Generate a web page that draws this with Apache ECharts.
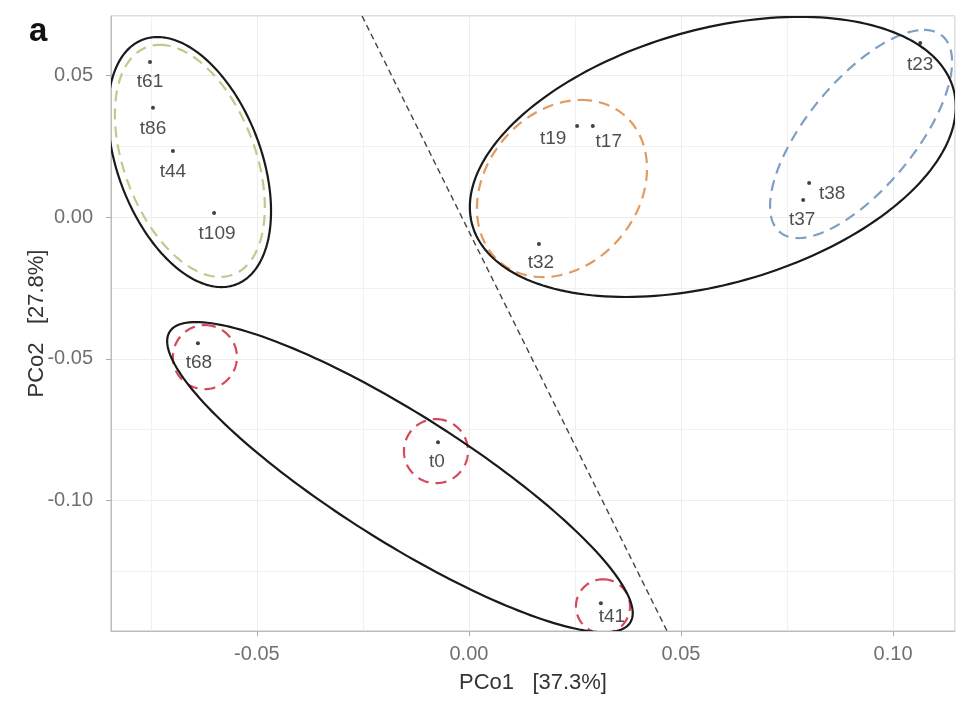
<!DOCTYPE html>
<html>
<head>
<meta charset="utf-8">
<script src="https://cdn.jsdelivr.net/npm/echarts@6/dist/echarts.min.js"></script>
<style>
  html, body { margin: 0; padding: 0; background: #fff; }
  #main { width: 956px; height: 701px; }
</style>
</head>
<body>
<div id="main"></div>
<script>
// sample scores
var sampleNames = ['t61', 't86', 't44', 't109', 't19', 't17', 't32', 't38', 't37', 't23', 't68', 't0', 't41'];
var pco1 = [-0.0752, -0.0745, -0.0698, -0.0601, 0.0255, 0.0292, 0.0165, 0.0802, 0.0788, 0.1064, -0.0639, -0.0073, 0.0311];
var pco2 = [0.0547, 0.0385, 0.0233, 0.0014, 0.0321, 0.0321, -0.0095, 0.0120, 0.0060, 0.0614, -0.0445, -0.0794, -0.1362];

// where each text sits relative to its point (px)
var labelDx = [0, 0, 0, 3, -24, 16, 2, 23, -1, 0, 1, -1, 11];
var labelDy = [20, 21, 21, 21, 13, 16, 19, 11, 20, 22, 20, 20, 14];

// ellipses: centre, vector to the top point, half width through the centre
var ellipseCx   = [-0.0658, 0.02193, 0.09245, -0.06226, -0.00778, 0.0316, -0.0659, 0.0575, -0.01627];
var ellipseCy   = [0.0198, 0.01006, 0.02929, -0.0494, -0.08257, -0.1373, 0.0194, 0.0212, -0.09174];
var ellipseTopDx = [-0.00708, 0.00453, 0.01484, 0, 0, 0, -0.00755, 0.0205, -0.04811];
var ellipseTopDy = [0.04093, 0.03123, 0.0367, 0.01129, 0.01129, 0.00953, 0.0441, 0.0494, 0.0547];
var ellipseHalfW = [0.0162, 0.01953, 0.0155, 0.00755, 0.00755, 0.00637, 0.01769, 0.0535, 0.02642];
var ellipseColor = ['#bfca8c', '#e39a5e', '#7d9fc4', '#d5475a', '#d5475a', '#d5475a', '#1a1a1a', '#1a1a1a', '#1a1a1a'];
var ellipseDashed = [true, true, true, true, true, true, false, false, false];

// dashed separating line
var dividerX = [-0.0252, 0.0467];
var dividerY = [0.0709, -0.146];

var minorX = [-0.075, -0.025, 0.025, 0.075];
var minorY = [0.025, -0.025, -0.075, -0.125];

var font = '"Liberation Sans", Arial, sans-serif';

var chart = echarts.init(document.getElementById('main'));

var points = sampleNames.map(function (n, i) {
  return {
    name: n,
    value: [pco1[i], pco2[i]],
    label: { offset: [labelDx[i], labelDy[i]] }
  };
});

var ellipses = ellipseCx.map(function (c, i) {
  return [c, ellipseCy[i], ellipseTopDx[i], ellipseTopDy[i], ellipseHalfW[i]];
});

var gridLines = minorX.map(function (v) { return { xAxis: v }; })
  .concat(minorY.map(function (v) { return { yAxis: v }; }));

var option = {
  animation: false,
  backgroundColor: '#fff',
  textStyle: { fontFamily: font },
  grid: {
    left: 111, right: 1, top: 16, bottom: 70,
    show: true, borderColor: '#bcbcbc', borderWidth: 1, backgroundColor: '#fff'
  },
  graphic: [{
    type: 'text', left: 29, top: 15,
    style: { text: 'a', font: 'bold 33px ' + font, fill: '#111' }
  }],
  xAxis: {
    type: 'value', min: -0.0844, max: 0.1146,
    minInterval: 0.05, maxInterval: 0.05,
    name: 'PCo1   [37.3%]', nameLocation: 'middle', nameGap: 41, nameMoveOverlap: false,
    nameTextStyle: { fontSize: 22, color: '#333', fontFamily: font },
    axisLine: { show: true, onZero: false, lineStyle: { color: '#bcbcbc', width: 1 } },
    axisTick: { show: true, length: 5, lineStyle: { color: '#aaaaaa' } },
    axisLabel: {
      fontSize: 20, color: '#707070', margin: 13, showMinLabel: false, showMaxLabel: false,
      formatter: function (v) { return v.toFixed(2); }
    },
    splitLine: { show: true, lineStyle: { color: '#ececec', width: 1 } }
  },
  yAxis: {
    type: 'value', min: -0.146, max: 0.0709,
    minInterval: 0.05, maxInterval: 0.05,
    name: 'PCo2   [27.8%]', nameLocation: 'middle', nameGap: 63, nameRotate: 90, nameMoveOverlap: false,
    nameTextStyle: { fontSize: 22, color: '#333', fontFamily: font },
    axisLine: { show: true, onZero: false, lineStyle: { color: '#bcbcbc', width: 1 } },
    axisTick: { show: true, length: 5, lineStyle: { color: '#aaaaaa' } },
    axisLabel: {
      fontSize: 20, color: '#707070', margin: 18, showMinLabel: false, showMaxLabel: false,
      formatter: function (v) { return v.toFixed(2); }
    },
    splitLine: { show: true, lineStyle: { color: '#ececec', width: 1 } }
  },
  series: [
    {
      type: 'line', data: [], silent: true, z: 0,
      markLine: {
        silent: true, symbol: ['none', 'none'], animation: false, precision: 4, z: 0,
        label: { show: false },
        lineStyle: { color: '#f1f1f1', type: 'solid', width: 1 },
        data: gridLines
      }
    },
    {
      type: 'custom', data: ellipses, clip: true, silent: true, z: 6,
      renderItem: function (params, api) {
        var i = params.dataIndex;
        var cx = api.value(0), cy = api.value(1);
        var c = api.coord([cx, cy]);
        var a = api.coord([cx + api.value(2), cy + api.value(3)]);
        var b = api.coord([cx + api.value(4), cy]);
        var ax = a[0] - c[0], ay = a[1] - c[1], bx = b[0] - c[0], by = b[1] - c[1];
        var pts = [];
        for (var k = 0; k < 200; k++) {
          var t = k / 200 * Math.PI * 2;
          pts.push([c[0] + ax * Math.cos(t) + bx * Math.sin(t), c[1] + ay * Math.cos(t) + by * Math.sin(t)]);
        }
        return {
          type: 'polygon',
          shape: { points: pts },
          style: {
            fill: 'none',
            stroke: ellipseColor[i],
            lineWidth: 2.2,
            lineDash: ellipseDashed[i] ? [11, 7] : null
          }
        };
      }
    },
    {
      type: 'line', z: 7, silent: true,
      data: dividerX.map(function (x, i) { return [x, dividerY[i]]; }),
      showSymbol: false,
      lineStyle: { color: '#444', width: 1.4, type: [6, 4] }
    },
    {
      type: 'scatter', z: 8, silent: true,
      data: points,
      symbolSize: 4,
      itemStyle: { color: '#111' },
      label: {
        show: true, position: 'inside', formatter: '{b}',
        fontSize: 19, color: '#222', fontFamily: font
      }
    }
  ]
};

chart.setOption(option);
</script>
</body>
</html>
